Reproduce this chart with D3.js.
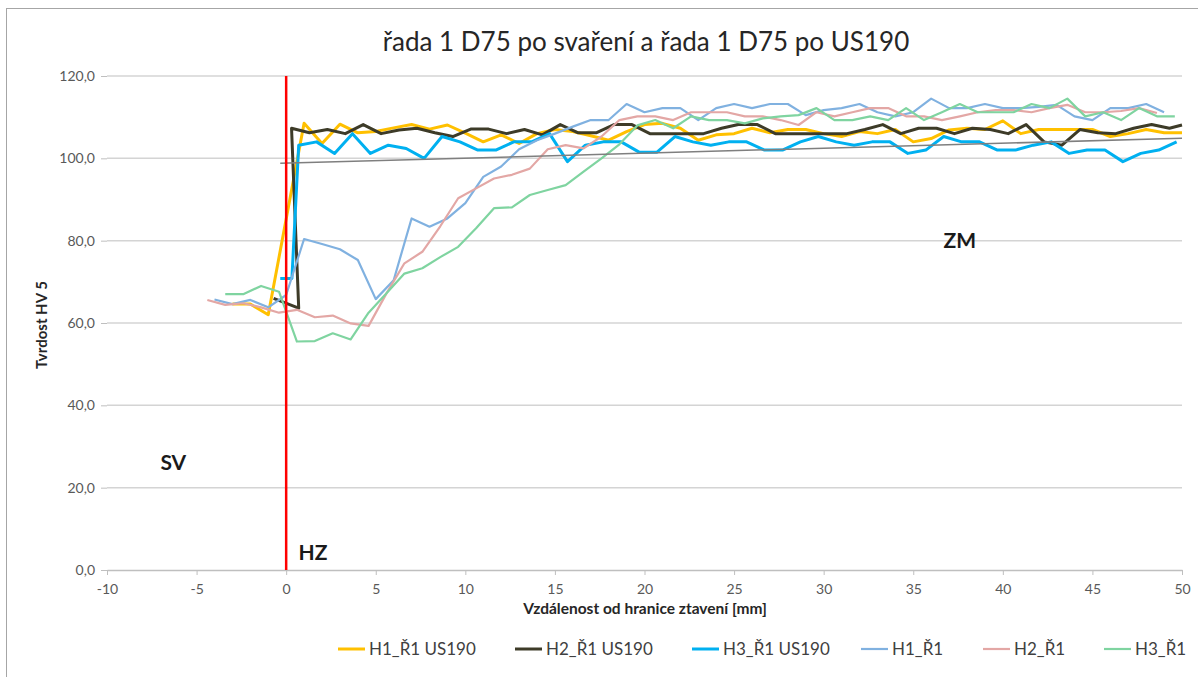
<!DOCTYPE html>
<html>
<head>
<meta charset="utf-8">
<script src="https://cdn.jsdelivr.net/npm/d3@7"></script>
<style>
  body { margin: 0; background: #fff; }
  svg { font-family: Lato, "Open Sans", sans-serif; }
</style>
</head>
<body>
<svg id="chart" width="1198" height="677"></svg>
<script>
// ---- data ----
var seriesNames = ["H1_Ř1 US190", "H2_Ř1 US190", "H3_Ř1 US190", "H1_Ř1", "H2_Ř1", "H3_Ř1"];

var h1us190X = [-3,-2,-1,1,2,3,4,5,6,7,8,9,10,11,12,13,14,15,16,17,18,19,20,21,22,23,24,25,26,27,28,29,30,31,32,33,34,35,36,37,38,39,40,41,42,43,44,45,46,47,48,49,50];
var h1us190Y = [64.6,64.6,62,108.5,103.6,108.3,106.2,106.5,107.4,108.2,107.1,108.1,106.1,104.0,105.7,103.6,106,107,106.5,105.5,104.4,106.5,108.2,108.5,107.3,104.4,105.7,106,107.3,106.2,107,107,106,105.3,106.5,106,107,104,104.8,106.9,107.3,107,109.1,106,107,107,107,107,105.3,106,107,106.2,106.2];

var h2us190X = [-0.7,0.7,0.3,1.3,2.3,3.3,4.3,5.3,6.3,7.3,8.3,9.3,10.3,11.3,12.3,13.3,14.3,15.3,16.3,17.3,18.3,19.3,20.3,21.3,22.3,23.3,24.3,25.3,26.3,27.3,28.3,29.3,30.3,31.3,32.3,33.3,34.3,35.3,36.3,37.3,38.3,39.3,40.3,41.3,42.3,43.3,44.3,45.3,46.3,47.3,48.3,49.3,50];
var h2us190Y = [66,63.6,107.3,106.2,107,106,108.2,106,106.9,107.3,106.2,105.3,107.1,107.1,106,107,105.7,108.2,106.2,106.2,108.2,108.2,106,106,106,106,107.3,108.3,108.2,106,106,106,106,106,107,108.2,106,107.3,107.3,106,107.3,107,106,108.2,104,103.2,107,106.2,106,107.3,108.2,107.3,108.1];

var h3us190X = [-0.33,0.32,0.7,1.7,2.7,3.7,4.7,5.7,6.7,7.7,8.7,9.7,10.7,11.7,12.7,13.7,14.7,15.7,16.7,17.7,18.7,19.7,20.7,21.7,22.7,23.7,24.7,25.7,26.7,27.7,28.7,29.7,30.7,31.7,32.7,33.7,34.7,35.7,36.7,37.7,38.7,39.7,40.7,41.7,42.7,43.7,44.7,45.7,46.7,47.7,48.7,49.7];
var h3us190Y = [70.8,70.8,103.2,104,101.2,106,101.2,103.2,102.4,100,105.3,104,102,102,104,104,106,99.2,103.2,104,104,101.5,101.5,105.3,104,103.2,104,104,102,102,104,105.3,104,103.2,104,104,101.2,102,105.3,104,104,102,102,103.2,104,101.2,102,102,99.2,101.2,102,104];

var h1r1X = [-4,-3,-2,-1,0,1,2,3,4,5,6,7,8,9,10,11,12,13,14,15,16,17,18,19,20,21,22,23,24,25,26,27,28,29,30,31,32,33,34,35,36,37,38,39,40,41,42,43,44,45,46,47,48,49];
var h1r1Y = [65.7,64.6,65.6,63.8,66.8,80.4,79.2,77.9,75.3,65.8,70.4,85.4,83.4,85.4,89.1,95.5,98,102.2,104.4,106,107.7,109.3,109.3,113.2,111.2,112.2,112.2,109.3,112.2,113.2,112.2,113.2,113.2,110.5,111.7,112.2,113.2,111.2,110.2,111.2,114.5,112.2,112.2,113.2,112.2,112.2,112.5,113,110.2,109.3,112.2,112.2,113.2,111.2];

var h2r1X = [-4.4,-3.4,-2.4,-1.4,-0.4,0.6,1.6,2.6,3.6,4.6,5.6,6.6,7.6,8.6,9.6,10.6,11.6,12.6,13.6,14.6,15.6,16.6,17.6,18.6,19.6,20.6,21.6,22.6,23.6,24.6,25.6,26.6,27.6,28.6,29.6,30.6,31.6,32.6,33.6,34.6,35.6,36.6,37.6,38.6,39.6,40.6,41.6,42.6,43.6,44.6,45.6,46.6,47.6,48.6];
var h2r1Y = [65.6,64.4,64.8,63.8,62.5,63.2,61.4,61.8,59.9,59.3,67.2,74.5,77.3,83.5,90.3,92.7,95.1,96,97.5,102.2,103.2,102.4,105.3,109.3,110.2,110.2,109.3,111.2,111.2,111.2,110.2,110.2,109.3,108.1,111.2,110.2,111.2,112.2,112.2,110.2,110.2,109.3,110.2,111.2,111.7,111.7,111.2,112.2,113,111.2,111.2,111.5,112.2,111];

var h3r1X = [-3.4,-2.4,-1.4,-0.4,0.6,1.6,2.6,3.6,4.6,5.6,6.6,7.6,8.6,9.6,10.6,11.6,12.6,13.6,14.6,15.6,16.6,17.6,18.6,19.6,20.6,21.6,22.6,23.6,24.6,25.6,26.6,27.6,28.6,29.6,30.6,31.6,32.6,33.6,34.6,35.6,36.6,37.6,38.6,39.6,40.6,41.6,42.6,43.6,44.6,45.6,46.6,47.6,48.6,49.6];
var h3r1Y = [67,67,69,67.6,55.5,55.6,57.5,56,62.5,67.2,72,73.3,76,78.5,83,87.9,88.1,91.1,92.3,93.5,96.8,100,103.4,108,109.3,107.3,110.2,109.3,109.3,108.5,109.7,110.2,110.5,112.2,109.3,109.3,110.2,109.3,112.2,109.3,111.2,113.2,111.2,111.2,111.2,113.2,112.2,114.5,110.2,111.2,109.3,112.2,110.2,110.2];

var xTicks = [-10,-5,0,5,10,15,20,25,30,35,40,45,50];
var yTicks = [0,20,40,60,80,100,120];
var boundaryX = 0; // hranice ztavení

// ---- styles ----
var colors = ["#ffc000", "#3d3b28", "#00b0f0", "#80b1e0", "#e3a7a5", "#7fd4a0"];
var widths = [3, 3, 3, 2.2, 2.2, 2.2];

(function() {
  var svg = d3.select("#chart");
  var W = 1198, H = 677;
  var pl = 107, pr = 1182, pt = 76, pb = 570;

  var loc = d3.formatLocale({decimal: ",", thousands: " ", grouping: [3], currency: ["", ""], minus: "-"});
  var fmtY = loc.format(".1f"), fmtX = loc.format("d");

  var x = d3.scaleLinear().domain([-10, 50]).range([pl, pr]);
  var y = d3.scaleLinear().domain([0, 120]).range([pb, pt]);

  // chart frame
  svg.append("rect").attr("x", 6.5).attr("y", 8.5).attr("width", W + 10).attr("height", H + 10)
    .attr("fill", "#fff").attr("stroke", "#a6a6a6").attr("stroke-width", 1);

  // title
  svg.append("text").attr("x", 646).attr("y", 51).attr("text-anchor", "middle")
    .attr("font-size", 26).attr("fill", "#262626")
    .text("řada 1 D75 po svaření a řada 1 D75 po US190");

  // gridlines
  svg.append("g").selectAll("line").data(yTicks.filter(function(d) { return d > 0; })).enter().append("line")
    .attr("x1", pl).attr("x2", pr)
    .attr("y1", function(d) { return y(d); }).attr("y2", function(d) { return y(d); })
    .attr("stroke", "#d4d4d4").attr("stroke-width", 1.5);

  // y axis (ticks + labels only)
  var yAxis = svg.append("g").attr("transform", "translate(" + pl + ",0)")
    .call(d3.axisLeft(y).tickValues(yTicks).tickFormat(fmtY).tickSize(6).tickPadding(6));
  yAxis.select(".domain").remove();
  yAxis.selectAll("line").attr("stroke", "#bfbfbf");
  yAxis.selectAll("text").attr("font-size", 14).attr("fill", "#595959").attr("font-family", "Lato, sans-serif");

  // x axis
  var xAxis = svg.append("g").attr("transform", "translate(0," + pb + ")")
    .call(d3.axisBottom(x).tickValues(xTicks).tickFormat(fmtX).tickSize(5).tickSizeOuter(0).tickPadding(9));
  xAxis.select(".domain").attr("stroke", "#bfbfbf").attr("stroke-width", 1.5);
  xAxis.selectAll("line").attr("stroke", "#bfbfbf");
  xAxis.selectAll("text").attr("font-size", 14).attr("fill", "#595959").attr("font-family", "Lato, sans-serif");

  // axis titles
  svg.append("text").attr("x", 645).attr("y", 614).attr("text-anchor", "middle")
    .attr("font-size", 15.5).attr("font-weight", "bold").attr("fill", "#262626")
    .text("Vzdálenost od hranice ztavení [mm]");
  svg.append("text").attr("transform", "translate(47,325) rotate(-90)").attr("text-anchor", "middle")
    .attr("font-size", 15).attr("font-weight", "bold").attr("fill", "#262626")
    .text("Tvrdost HV 5");

  // series
  var allX = [h1us190X, h2us190X, h3us190X, h1r1X, h2r1X, h3r1X];
  var allY = [h1us190Y, h2us190Y, h3us190Y, h1r1Y, h2r1Y, h3r1Y];
  var series = seriesNames.map(function(n, i) {
    return { name: n, color: colors[i], width: widths[i],
             pts: allX[i].map(function(v, j) { return [v, allY[i][j]]; }) };
  });

  var line = d3.line().x(function(d) { return x(d[0]); }).y(function(d) { return y(d[1]); });

  svg.append("g").selectAll("path").data(series).enter().append("path")
    .attr("d", function(d) { return line(d.pts); })
    .attr("fill", "none")
    .attr("stroke", function(d) { return d.color; })
    .attr("stroke-width", function(d) { return d.width; })
    .attr("stroke-linejoin", "round");

  // linear trendline of H3_Ř1 US190
  var tp = series[2].pts;
  var mx = d3.mean(tp, function(d) { return d[0]; }), my = d3.mean(tp, function(d) { return d[1]; });
  var sxy = d3.sum(tp, function(d) { return (d[0] - mx) * (d[1] - my); });
  var sxx = d3.sum(tp, function(d) { return (d[0] - mx) * (d[0] - mx); });
  var slope = sxy / sxx, icpt = my - slope * mx;
  var tx0 = d3.min(tp, function(d) { return d[0]; }), tx1 = 50;
  svg.append("path")
    .attr("d", line([[tx0, icpt + slope * tx0], [tx1, icpt + slope * tx1]]))
    .attr("stroke", "#7f7f7f").attr("stroke-width", 1.5).attr("fill", "none");

  // fusion boundary
  svg.append("line").attr("x1", x(boundaryX)).attr("x2", x(boundaryX))
    .attr("y1", y(120)).attr("y2", y(0))
    .attr("stroke", "#ff0000").attr("stroke-width", 2.5);

  // zone labels
  var zones = [["SV", -6.3, 24.3], ["HZ", 1.5, 2.4], ["ZM", 37.6, 78.2]];
  svg.append("g").selectAll("text").data(zones).enter().append("text")
    .attr("x", function(d) { return x(d[1]); }).attr("y", function(d) { return y(d[2]); })
    .attr("text-anchor", "middle").attr("font-size", 21).attr("font-weight", "bold").attr("fill", "#1a1a1a")
    .text(function(d) { return d[0]; });

  // legend
  var legendStart = [338, 515, 692, 861, 983, 1104];
  var lg = svg.append("g").selectAll("g").data(series).enter().append("g")
    .attr("transform", function(d, i) { return "translate(" + legendStart[i] + ",649)"; });
  lg.append("line").attr("x1", 0).attr("x2", 27).attr("y1", 0).attr("y2", 0)
    .attr("stroke", function(d) { return d.color; })
    .attr("stroke-width", function(d) { return d.width; });
  lg.append("text").attr("x", 31).attr("y", 6).attr("font-size", 17).attr("fill", "#404040")
    .text(function(d) { return d.name; });
})();
</script>
</body>
</html>
